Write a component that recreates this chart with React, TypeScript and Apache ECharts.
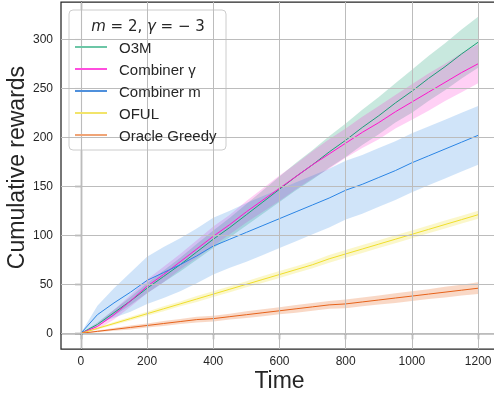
import React, { useEffect, useRef } from "react";
import * as echarts from "echarts";

const T = [0, 50, 100, 150, 200, 250, 300, 350, 400, 450, 500, 550, 600, 650, 700, 750, 800, 850, 900, 950, 1000, 1050, 1100, 1150, 1200];

const O3M = [0, 9, 21, 33, 46, 58, 70, 83, 96, 108, 121, 134, 147, 160, 172, 185, 197, 210, 222, 235, 247, 260, 272, 285, 297];
const O3M_SD = [0, 2, 3, 4, 5, 6, 7, 8, 9, 10, 11, 12, 13, 14, 15, 16, 17, 18, 19, 20, 22, 23, 24, 25, 26];

const COMB_G = [0, 7, 19, 33, 48, 60, 73, 86, 99, 111, 124, 136, 148, 160, 172, 183, 194, 205, 215, 226, 236, 246, 256, 266, 275];
const COMB_G_SD = [0, 3, 5, 6, 7, 8, 8, 9, 10, 10, 11, 12, 13, 13, 14, 15, 15, 16, 17, 17, 18, 19, 19, 20, 20];

const COMB_M = [0, 19, 31, 42, 54, 62, 70, 79, 89, 96, 103, 110, 117, 124, 131, 138, 146, 152, 159, 166, 174, 181, 188, 195, 202];
const COMB_M_SD = [0, 9, 15, 20, 24, 26, 27, 28, 29, 29, 30, 30, 30, 30, 30, 30, 30, 30, 30, 30, 30, 30, 30, 30, 30];

const OFUL = [0, 5, 10, 15, 20, 25, 30, 35, 40, 45, 50, 55, 60, 65, 70, 76, 81, 86, 91, 96, 101, 106, 111, 116, 121];
const OFUL_SD = [0, 1, 1.5, 2, 2, 2.5, 2.5, 3, 3, 3, 3, 3.5, 3.5, 3.5, 3.5, 4, 4, 4, 4, 4, 4, 4, 4, 4, 4];

const ORACLE = [0, 2, 4, 6, 8, 10, 12, 14, 15, 17, 19, 21, 23, 25, 27, 29, 30, 32, 34, 36, 38, 40, 42, 44, 46];
const ORACLE_SD = [0, 1, 1.5, 2, 2, 2.5, 2.5, 3, 3, 3, 3.5, 3.5, 3.5, 4, 4, 4, 4.5, 4.5, 4.5, 5, 5, 5, 5.5, 5.5, 6];

const X_TICKS = [0, 200, 400, 600, 800, 1000, 1200];
const Y_TICKS = [0, 50, 100, 150, 200, 250, 300];

const NAMES = ["O3M", "Combiner γ", "Combiner m", "OFUL", "Oracle Greedy"];

const FONT = "Liberation Sans";
const TEXT = "#262626";

export default function App() {
  const ref = useRef<HTMLDivElement>(null);
  useEffect(() => {
    if (!ref.current) return;
    const chart = echarts.init(ref.current, undefined, { renderer: "svg" });

    const algos = [
      { name: NAMES[0], mean: O3M, sd: O3M_SD, line: "#1b9e77", fill: "rgba(27,158,119,0.24)", legend: "#6cc6a6" },
      { name: NAMES[1], mean: COMB_G, sd: COMB_G_SD, line: "#ff14cc", fill: "rgba(255,20,204,0.2)", legend: "#ff4ede" },
      { name: NAMES[2], mean: COMB_M, sd: COMB_M_SD, line: "#2a84e4", fill: "rgba(42,132,228,0.22)", legend: "#4f90dc" },
      { name: NAMES[3], mean: OFUL, sd: OFUL_SD, line: "#efde2c", fill: "rgba(239,222,44,0.25)", legend: "#f2e46a" },
      { name: NAMES[4], mean: ORACLE, sd: ORACLE_SD, line: "#e6621a", fill: "rgba(230,98,26,0.25)", legend: "#f0a476" },
    ];

    const series: any[] = [
      {
        type: "line",
        name: "grid",
        data: [],
        z: 1,
        silent: true,
        markLine: {
          silent: true,
          symbol: ["none", "none"],
          label: { show: false },
          lineStyle: { color: "#bcbcbc", width: 1, type: "solid" },
          data: [
            ...Y_TICKS.map((v) => ({ yAxis: v })),
            ...X_TICKS.map((v) => ({ xAxis: v })),
          ],
        },
      },
    ];

    algos.forEach((a) => {
      series.push({
        type: "custom",
        name: a.name + " band",
        z: 2,
        silent: true,
        data: [[0, 0]],
        renderItem: (_params: any, api: any) => {
          const upper = T.map((t, i) => api.coord([t, a.mean[i] + a.sd[i]]));
          const lower = T.map((t, i) => api.coord([t, a.mean[i] - a.sd[i]])).reverse();
          return {
            type: "polygon",
            shape: { points: upper.concat(lower) },
            style: { fill: a.fill, stroke: "none" },
          };
        },
      });
      series.push({
        type: "line",
        name: a.name,
        z: 3,
        data: T.map((t, i) => [t, a.mean[i]]),
        showSymbol: false,
        symbol: "none",
        lineStyle: { color: a.line, width: 1 },
        itemStyle: { color: a.line },
      });
    });

    chart.setOption({
      animation: false,
      grid: {
        left: 61,
        top: 2,
        width: 437,
        height: 347,
        show: true,
        containLabel: false,
        outerBoundsMode: "none",
        borderColor: TEXT,
        borderWidth: 1.25,
        backgroundColor: "transparent",
      },
      xAxis: {
        type: "value",
        min: -60,
        max: 1260,
        name: "Time",
        nameLocation: "middle",
        nameGap: 23,
        nameMoveOverlap: false,
        nameTextStyle: { fontFamily: FONT, fontSize: 23, color: TEXT, lineHeight: 16 },
        axisLine: { show: true, lineStyle: { color: TEXT, width: 1.25 } },
        axisTick: { show: true, length: 6, customValues: X_TICKS, lineStyle: { color: TEXT, width: 1.25 } },
        axisLabel: {
          customValues: X_TICKS,
          fontFamily: FONT,
          fontSize: 12,
          color: TEXT,
          margin: 6,
          formatter: (v: number) => String(v),
        },
        splitLine: { show: false },
      },
      yAxis: {
        type: "value",
        min: -16,
        max: 338,
        name: "Cumulative rewards",
        nameLocation: "middle",
        nameRotate: 90,
        nameGap: 34,
        nameMoveOverlap: false,
        nameTextStyle: { fontFamily: FONT, fontSize: 23, color: TEXT, padding: [0, 0, 0, 16] },
        axisLine: { show: true, lineStyle: { color: TEXT, width: 1.25 } },
        axisTick: { show: true, length: 6, customValues: Y_TICKS, lineStyle: { color: TEXT, width: 1.25 } },
        axisLabel: {
          customValues: Y_TICKS,
          fontFamily: FONT,
          fontSize: 12,
          color: TEXT,
          margin: 8,
          formatter: (v: number) => String(v),
        },
        splitLine: { show: false },
      },
      legend: {
        orient: "vertical",
        left: 70,
        top: 34,
        padding: 5,
        itemWidth: 32,
        itemHeight: 2,
        itemGap: 6,
        icon: "rect",
        z: 6,
        textStyle: { fontFamily: FONT, fontSize: 15, color: TEXT, lineHeight: 16, padding: [0, 0, 0, 7] },
        data: algos.map((a) => ({ name: a.name, itemStyle: { color: a.legend } })),
      },
      graphic: [
        {
          type: "rect",
          z: 5,
          shape: { x: 69, y: 10, width: 157, height: 140, r: 4 },
          style: { fill: "rgba(255,255,255,0.85)", stroke: "#cccccc", lineWidth: 1 },
        },
        {
          type: "text",
          z: 6,
          x: 148,
          y: 26,
          style: {
            text: "{i|m} = 2, {i|γ} = − 3",
            align: "center",
            verticalAlign: "middle",
            fontFamily: "DejaVu Sans",
            fontSize: 15,
            fill: TEXT,
            rich: {
              i: { fontStyle: "italic", fontFamily: "DejaVu Sans", fontSize: 15, fill: TEXT },
            },
          },
        },
      ],
      series,
    });

    return () => chart.dispose();
  }, []);

  return (
    <div
      ref={ref}
      style={{ position: "fixed", left: 0, top: 0, width: 494, height: 393 }}
    />
  );
}
